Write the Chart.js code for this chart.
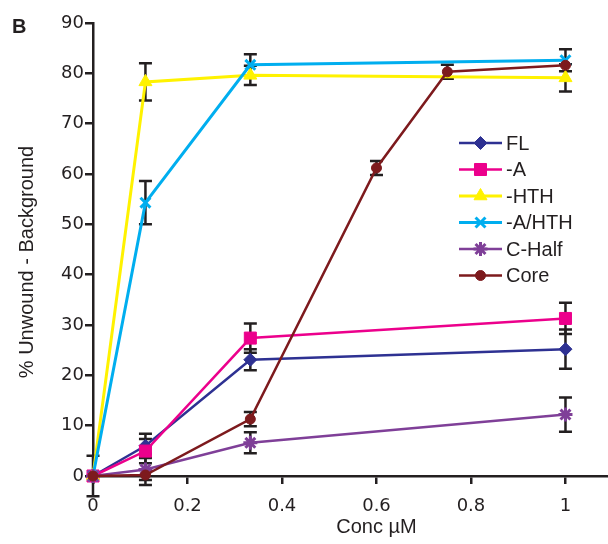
<!DOCTYPE html>
<html>
<head>
<meta charset="utf-8">
<script src="https://cdn.jsdelivr.net/npm/chart.js@4.4.1/dist/chart.umd.min.js"></script>
<style>
  html, body { margin: 0; padding: 0; background: #ffffff; }
  #wrap { width: 608px; height: 544px; position: relative; }
</style>
</head>
<body>
<div id="wrap"><canvas id="c"></canvas></div>
<script>
// ---- data ----
const seriesNames = ["FL", "-A", "-HTH", "-A/HTH", "C-Half", "Core"];
const concMain = [0, 0.111, 0.333, 1];
const concCore = [0, 0.111, 0.333, 0.6, 0.75, 1];

const flValues     = [0, 6.0, 23.1, 25.2];
const flErrors     = [0, 2.4, 2.1, 3.9];
const aValues      = [0, 4.95, 27.4, 31.3];
const aErrors      = [0, 2.4, 2.9, 3.1];
const hthValues    = [0, 78.3, 79.6, 79.1];
const hthErrors    = [4.0, 3.7, 1.9, 2.7];
const aHthValues   = [0, 54.3, 81.7, 82.6];
const aHthErrors   = [0, 4.3, 2.1, 2.2];
const cHalfValues  = [0, 1.3, 6.6, 12.2];
const cHalfErrors  = [0, 3.1, 2.1, 3.4];
const coreValues   = [0, 0.2, 11.3, 61.2, 80.3, 81.6];
const coreErrors   = [0, 1.0, 1.4, 1.4, 1.4, 0];

const xTicks = [0, 0.2, 0.4, 0.6, 0.8, 1];
const yTicks = [0, 10, 20, 30, 40, 50, 60, 70, 80, 90];

const xTitle = "Conc \u00b5M";
const yTitle = "% Unwound - Background";
const panelLabel = "B";

// ---- styling ----
const INK = '#231f20';
const styles = [
  { color: '#2e3192', pointStyle: 'rectRot',  radius: 6.5, fill: true },
  { color: '#ec008c', pointStyle: 'rect',     radius: 8.5, fill: true },
  { color: '#fff200', pointStyle: 'triangle', radius: 7.5, fill: true },
  { color: '#00aeef', pointStyle: 'crossRot', radius: 7,   fill: false },
  { color: '#7f3f98', pointStyle: 'star',     radius: 7,   fill: false },
  { color: '#7d1a1d', pointStyle: 'circle',   radius: 5,   fill: true }
];

const seriesX = [concMain, concMain, concMain, concMain, concMain, concCore];
const seriesY = [flValues, aValues, hthValues, aHthValues, cHalfValues, coreValues];
const seriesE = [flErrors, aErrors, hthErrors, aHthErrors, cHalfErrors, coreErrors];

const datasets = seriesNames.map((name, i) => {
  const s = styles[i];
  return {
    label: name,
    data: seriesX[i].map((x, k) => ({ x: x, y: seriesY[i][k] })),
    errors: seriesE[i],
    borderColor: s.color,
    backgroundColor: s.color,
    borderWidth: i === 2 || i === 3 ? 3 : 2.5,
    pointStyle: s.pointStyle,
    pointRadius: s.radius,
    pointHoverRadius: s.radius,
    pointBorderWidth: s.fill ? 1 : 3,
    pointBorderColor: s.color,
    pointBackgroundColor: s.color,
    tension: 0,
    fill: false,
    clip: false,
    order: seriesNames.length - 1 - i
  };
});

// error bars drawn through the scales
const errorBarPlugin = {
  id: 'errorBars',
  beforeDatasetsDraw(chart) {
    const ctx = chart.ctx;
    const xs = chart.scales.x, ys = chart.scales.y;
    ctx.save();
    ctx.strokeStyle = INK;
    ctx.lineWidth = 2.5;
    ctx.lineCap = 'butt';
    const cap = 6.5;
    chart.data.datasets.forEach(ds => {
      ds.data.forEach((p, k) => {
        const e = ds.errors[k];
        if (!e) return;
        const px = xs.getPixelForValue(p.x);
        const top = ys.getPixelForValue(p.y + e);
        const bot = ys.getPixelForValue(p.y - e);
        ctx.beginPath();
        ctx.moveTo(px, top); ctx.lineTo(px, bot);
        ctx.moveTo(px - cap, top); ctx.lineTo(px + cap, top);
        ctx.moveTo(px - cap, bot); ctx.lineTo(px + cap, bot);
        ctx.stroke();
      });
    });
    ctx.restore();
  }
};

// titles, panel label and legend
const decorPlugin = {
  id: 'decor',
  afterDraw(chart) {
    const ctx = chart.ctx;
    const xs = chart.scales.x;
    ctx.save();
    ctx.fillStyle = INK;
    // panel label
    ctx.font = 'bold 20px "Liberation Sans", Arial, sans-serif';
    ctx.textAlign = 'left';
    ctx.textBaseline = 'alphabetic';
    ctx.fillText(panelLabel, 12, 33);
    // x title
    ctx.font = '20px "Liberation Sans", Arial, sans-serif';
    ctx.textAlign = 'center';
    ctx.textBaseline = 'middle';
    ctx.fillText(xTitle, xs.getPixelForValue(0.6), 527);
    // y title
    ctx.save();
    ctx.translate(27, 262);
    ctx.rotate(-Math.PI / 2);
    ctx.fillText(yTitle, 0, 0);
    ctx.restore();
    // legend
    const x0 = 459, x1 = 502, tx = 506, y0 = 143, dy = 26.5;
    ctx.textAlign = 'left';
    ctx.textBaseline = 'middle';
    chart.data.datasets.forEach((ds, i) => {
      const y = y0 + dy * i;
      ctx.strokeStyle = ds.borderColor;
      ctx.lineWidth = ds.borderWidth;
      ctx.beginPath();
      ctx.moveTo(x0, y); ctx.lineTo(x1, y);
      ctx.stroke();
      ctx.fillStyle = ds.pointBackgroundColor;
      ctx.strokeStyle = ds.pointBorderColor;
      ctx.lineWidth = ds.pointBorderWidth;
      Chart.helpers.drawPoint(ctx, {
        pointStyle: ds.pointStyle, radius: ds.pointRadius, rotation: 0, borderWidth: ds.pointBorderWidth
      }, (x0 + x1) / 2, y);
      ctx.fillStyle = INK;
      ctx.font = '20px "Liberation Sans", Arial, sans-serif';
      ctx.fillText(ds.label, tx, y + 1);
    });
    ctx.restore();
  }
};

const tickFont = { family: '"DejaVu Sans", Verdana, sans-serif', size: 18 };

new Chart(document.getElementById('c'), {
  type: 'line',
  data: { datasets: datasets },
  options: {
    responsive: true,
    maintainAspectRatio: false,
    animation: false,
    devicePixelRatio: 1,
    layout: { autoPadding: false, padding: { top: 23, right: 0, left: 0, bottom: 0 } },
    plugins: { legend: { display: false }, tooltip: { enabled: false } },
    scales: {
      x: {
        type: 'linear',
        min: 0,
        max: 1.09,
        afterBuildTicks: s => { s.ticks = xTicks.map(v => ({ value: v })); },
        afterFit: s => { s.height = 68; },
        ticks: {
          font: tickFont, color: INK, padding: 12, autoSkip: false, maxRotation: 0,
          callback: v => String(v)
        },
        grid: { display: true, drawOnChartArea: false, drawTicks: true, tickLength: 8, color: INK, lineWidth: 2.5 },
        border: { display: true, color: INK, width: 2.5 },
        title: { display: false }
      },
      y: {
        type: 'linear',
        min: 0,
        max: 90,
        afterBuildTicks: s => { s.ticks = yTicks.map(v => ({ value: v })); },
        afterFit: s => { s.width = 93; },
        ticks: { font: tickFont, color: INK, padding: 1, autoSkip: false, callback: v => String(v) },
        grid: { display: true, drawOnChartArea: false, drawTicks: true, tickLength: 8, color: INK, lineWidth: 2.5 },
        border: { display: true, color: INK, width: 2.5 },
        title: { display: false }
      }
    }
  },
  plugins: [errorBarPlugin, decorPlugin]
});
</script>
</body>
</html>
